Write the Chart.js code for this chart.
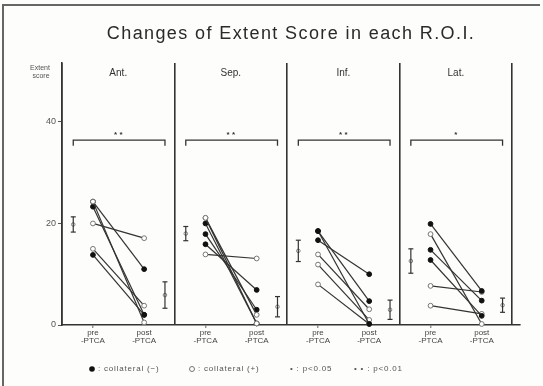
<!DOCTYPE html>
<html>
<head>
<meta charset="utf-8">
<script src="https://cdn.jsdelivr.net/npm/chart.js@4.4.1/dist/chart.umd.min.js"></script>
<style>
  html, body { margin: 0; padding: 0; background: #fdfdfb; }
  #wrap { width: 543px; height: 386px; position: relative; }
</style>
</head>
<body>
<div id="wrap"><canvas id="chart1"></canvas></div>
<script>
// regions of interest and their significance marks
var regions = ['Ant.', 'Sep.', 'Inf.', 'Lat.'];
var signif = ['* *', '* *', '* *', '*'];

// individual extent scores, pre and post PTCA (1 = collateral (+), open circle)
var antPre  = [24.3, 24.3, 23.3, 20.0, 15.0, 13.8];
var antPost = [0.5, 11.0, 2.0, 17.1, 3.8, 2.0];
var antColl = [1, 0, 0, 1, 1, 0];

var sepPre  = [21.1, 21.1, 20.0, 17.9, 15.9, 13.9];
var sepPost = [2.0, 0.3, 0.3, 3.0, 6.9, 13.1];
var sepColl = [1, 1, 0, 0, 0, 1];

var infPre  = [18.5, 18.5, 16.7, 13.9, 11.9, 8.0];
var infPost = [4.7, 0.2, 10.0, 3.1, 1.0, 0.2];
var infColl = [0, 0, 0, 1, 1, 1];

var latPre  = [19.9, 17.9, 14.8, 12.8, 7.7, 3.8];
var latPost = [6.7, 0.2, 4.8, 1.8, 6.5, 2.2];
var latColl = [0, 1, 0, 0, 1, 1];

// mean +- SD per region
var meanPre  = [19.8, 18.0, 14.6, 12.6];
var sdPre    = [1.5, 1.4, 2.1, 2.4];
var meanPost = [5.9, 3.6, 3.0, 3.9];
var sdPost   = [2.6, 2.0, 1.9, 1.4];

var yTicks = [0, 20, 40];
var bracketTop = 36.4, bracketFoot = 35.3;

var preAll = [antPre, sepPre, infPre, latPre];
var postAll = [antPost, sepPost, infPost, latPost];
var collAll = [antColl, sepColl, infColl, latColl];

// x positions inside each panel (panel width 10)
var X_MPRE = 1.0, X_PRE = 2.75, X_POST = 7.3, X_MPOST = 9.15;
var INK = '#333';
var FONT = '"Liberation Sans", Arial, sans-serif';

var datasets = [];
var xTickVals = [];
var xTickLabels = {};
regions.forEach(function (r, i) {
	var b = i * 10;
	xTickVals.push(b);
	xTickVals.push(b + X_PRE);
	xTickVals.push(b + X_POST);
	xTickLabels[(b + X_PRE).toFixed(2)] = ['pre', '-PTCA'];
	xTickLabels[(b + X_POST).toFixed(2)] = ['post', '-PTCA'];
	for (var k = 0; k < preAll[i].length; k++) {
		var open = collAll[i][k] === 1;
		datasets.push({
			data: [{x: b + X_PRE, y: preAll[i][k]}, {x: b + X_POST, y: postAll[i][k]}],
			showLine: true,
			borderColor: INK,
			borderWidth: 1.2,
			pointRadius: 2.4,
			pointBorderWidth: 1,
			pointBorderColor: open ? '#777' : '#111',
			pointBackgroundColor: open ? '#fff' : '#111',
			clip: false
		});
	}
	// mean +- SD bars
	[[b + X_MPRE, meanPre[i], sdPre[i]], [b + X_MPOST, meanPost[i], sdPost[i]]].forEach(function (m) {
		datasets.push({
			data: [{x: m[0], y: m[1] - m[2]}, {x: m[0], y: m[1] + m[2]}],
			showLine: true,
			borderColor: INK,
			borderWidth: 1.2,
			pointStyle: 'line',
			pointRadius: 2.5,
			pointBorderWidth: 1.2,
			pointBorderColor: INK,
			clip: false
		});
		datasets.push({
			data: [{x: m[0], y: m[1]}],
			pointRadius: 1.8,
			pointBorderWidth: 0.8,
			pointBorderColor: '#666',
			pointBackgroundColor: '#fff',
			clip: false
		});
	});
	// significance bracket
	datasets.push({
		data: [{x: b + X_MPRE, y: bracketFoot}, {x: b + X_MPRE, y: bracketTop},
		       {x: b + X_MPOST, y: bracketTop}, {x: b + X_MPOST, y: bracketFoot}],
		showLine: true,
		borderColor: INK,
		borderWidth: 1.3,
		pointRadius: 0,
		clip: false
	});
});
xTickVals.push(40);

var decor = {
	id: 'decor',
	beforeDraw: function (chart) {
		var c = chart.ctx;
		c.save();
		c.fillStyle = '#fdfdfb';
		c.fillRect(0, 0, chart.width, chart.height);
		// scanned page frame
		c.strokeStyle = '#666';
		c.lineWidth = 2;
		c.beginPath();
		c.moveTo(3, 386);
		c.lineTo(3, 5);
		c.lineTo(540, 5);
		c.stroke();
		c.restore();
	},
	afterDraw: function (chart) {
		var c = chart.ctx, xs = chart.scales.x, ys = chart.scales.y;
		c.save();
		c.fillStyle = '#2a2a2a';
		c.textAlign = 'center';
		c.textBaseline = 'alphabetic';
		c.font = '18px ' + FONT;
		c.letterSpacing = '1.4px';
		c.fillText('Changes of Extent Score in each R.O.I.', 291, 39);
		c.letterSpacing = '0px';
		// y axis caption
		c.fillStyle = '#555';
		c.font = '7px ' + FONT;
		c.fillText('Extent', 40, 70);
		c.fillText('score', 41, 78);
		// panel titles and stars
		regions.forEach(function (r, i) {
			var cx = xs.getPixelForValue(i * 10 + 5);
			c.fillStyle = '#333';
			c.font = '10px ' + FONT;
			c.fillText(r, cx, 76);
			c.font = 'bold 8px ' + FONT;
			c.fillText(signif[i], cx, ys.getPixelForValue(bracketTop) - 3);
		});
		// legend
		var ly = 369;
		c.font = '8px ' + FONT;
		c.letterSpacing = '0.8px';
		c.textAlign = 'left';
		c.textBaseline = 'middle';
		c.beginPath(); c.arc(92, ly, 2.8, 0, Math.PI * 2); c.fillStyle = '#111'; c.fill();
		c.fillStyle = '#555';
		c.fillText(': collateral (\u2212)', 98, ly);
		c.beginPath(); c.arc(192, ly, 2.5, 0, Math.PI * 2); c.strokeStyle = '#777'; c.lineWidth = 1; c.stroke();
		c.fillText(': collateral (+)', 198, ly);
		c.fillText('\u2022 : p<0.05', 290, ly);
		c.fillText('\u2022 \u2022 : p<0.01', 354, ly);
		c.restore();
	}
};

var ctx = document.getElementById('chart1').getContext('2d');
ctx.canvas.width = 543;
ctx.canvas.height = 386;
new Chart(ctx, {
	type: 'scatter',
	data: {datasets: datasets},
	plugins: [decor],
	options: {
		responsive: false,
		animation: false,
		events: [],
		layout: {autoPadding: false, padding: {left: 0, right: 23, top: 63, bottom: 31}},
		plugins: {legend: {display: false}, tooltip: {enabled: false}},
		scales: {
			x: {
				type: 'linear',
				min: 0,
				max: 40.7,
				afterBuildTicks: function (axis) {
					axis.ticks = xTickVals.map(function (v) { return {value: v}; });
				},
				afterFit: function (axis) { axis.height = 30; },
				border: {color: INK, width: 1.6},
				grid: {
					drawOnChartArea: true,
					tickLength: 3,
					lineWidth: 1.6,
					color: function (c) { return c.tick && c.tick.value % 10 === 0 ? INK : 'rgba(0,0,0,0)'; },
					tickColor: function (c) {
						if (!c.tick) return 'rgba(0,0,0,0)';
						var v = c.tick.value % 10;
						return Math.abs(v - X_PRE) < 0.01 ? '#666' : 'rgba(0,0,0,0)';
					},
					tickWidth: 1
				},
				ticks: {
					autoSkip: false,
					maxRotation: 0,
					minRotation: 0,
					padding: 1,
					color: '#444',
					font: {size: 8, family: FONT, lineHeight: 1.0},
					callback: function (v) { return xTickLabels[Number(v).toFixed(2)] || ''; }
				}
			},
			y: {
				min: 0,
				max: 51.6,
				afterBuildTicks: function (axis) {
					axis.ticks = yTicks.map(function (v) { return {value: v}; });
				},
				afterFit: function (axis) { axis.width = 62; },
				border: {color: INK, width: 1.6},
				grid: {drawOnChartArea: false, tickLength: 4, color: '#555', lineWidth: 1},
				ticks: {
					padding: 2,
					color: '#555',
					font: {size: 9, family: FONT}
				}
			}
		}
	}
});
</script>
</body>
</html>
